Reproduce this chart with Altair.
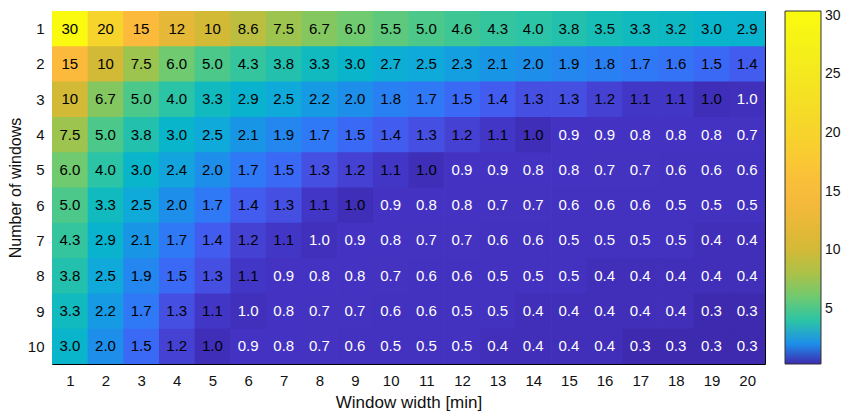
import altair as alt
import pandas as pd

window_width = list(range(1, 21))
num_windows = list(range(1, 11))

row1 = [30, 20, 15, 12, 10, 8.6, 7.5, 6.7, 6.0, 5.5, 5.0, 4.6, 4.3, 4.0, 3.8, 3.5, 3.3, 3.2, 3.0, 2.9]
row2 = [15, 10, 7.5, 6.0, 5.0, 4.3, 3.8, 3.3, 3.0, 2.7, 2.5, 2.3, 2.1, 2.0, 1.9, 1.8, 1.7, 1.6, 1.5, 1.4]
row3 = [10, 6.7, 5.0, 4.0, 3.3, 2.9, 2.5, 2.2, 2.0, 1.8, 1.7, 1.5, 1.4, 1.3, 1.3, 1.2, 1.1, 1.1, 1.0, 0.96]
row4 = [7.5, 5.0, 3.8, 3.0, 2.5, 2.1, 1.9, 1.7, 1.5, 1.4, 1.3, 1.2, 1.1, 1.0, 0.9, 0.9, 0.8, 0.8, 0.8, 0.7]
row5 = [6.0, 4.0, 3.0, 2.4, 2.0, 1.7, 1.5, 1.3, 1.2, 1.1, 1.0, 0.9, 0.9, 0.8, 0.8, 0.7, 0.7, 0.6, 0.6, 0.6]
row6 = [5.0, 3.3, 2.5, 2.0, 1.7, 1.4, 1.3, 1.1, 1.0, 0.9, 0.8, 0.8, 0.7, 0.7, 0.6, 0.6, 0.6, 0.5, 0.5, 0.5]
row7 = [4.3, 2.9, 2.1, 1.7, 1.4, 1.2, 1.1, 0.96, 0.9, 0.8, 0.7, 0.7, 0.6, 0.6, 0.5, 0.5, 0.5, 0.5, 0.4, 0.4]
row8 = [3.8, 2.5, 1.9, 1.5, 1.3, 1.1, 0.9, 0.8, 0.8, 0.7, 0.6, 0.6, 0.5, 0.5, 0.5, 0.4, 0.4, 0.4, 0.4, 0.4]
row9 = [3.3, 2.2, 1.7, 1.3, 1.1, 0.96, 0.8, 0.7, 0.7, 0.6, 0.6, 0.5, 0.5, 0.4, 0.4, 0.4, 0.4, 0.4, 0.3, 0.3]
row10 = [3.0, 2.0, 1.5, 1.2, 1.0, 0.9, 0.8, 0.7, 0.6, 0.5, 0.5, 0.5, 0.4, 0.4, 0.4, 0.4, 0.3, 0.3, 0.3, 0.3]
rows = [row1, row2, row3, row4, row5, row6, row7, row8, row9, row10]

colorbar_ticks = [5, 10, 15, 20, 25, 30]

color_domain = [0.3, 0.45, 0.9, 1.0, 1.1, 1.2, 1.3, 1.4, 1.5, 1.7, 1.9, 2.1, 2.5, 3.0, 3.5,
                4.0, 5.0, 6.0, 7.5, 8.6, 10, 12, 15, 20, 25, 30.4]
color_range = ["#3e2aae", "#4331be", "#4433c3", "#3f2eb8", "#4236c6", "#4542d3", "#454fe2",
               "#415cee", "#3a6af5", "#2f79f6", "#2387ef", "#1995e6", "#0fa9da", "#08b5cb",
               "#17bdb7", "#2bc4a6", "#4cc88a", "#6fca70", "#9cc44e", "#bcbe40", "#d2ba37",
               "#e6b837", "#fbba3c", "#f7d42b", "#f3e81f", "#f9fb0e"]

records = []
for n, row in zip(num_windows, rows):
    for w, v in zip(window_width, row):
        records.append({"w": w, "n": n, "v": v})
df = pd.DataFrame(records)

FONT = "Liberation Sans"

xscale = alt.Scale(domain=[0.5, 20.5], nice=False, zero=False)
yscale = alt.Scale(domain=[0.5, 10.5], nice=False, zero=False, reverse=True)

xaxis = alt.Axis(values=window_width, format="d", labelFontSize=15, labelPadding=9,
                 titleFontSize=17, titlePadding=6, ticks=False, domain=False, grid=False,
                 labelFont=FONT, titleFont=FONT, titleFontWeight="normal",
                 labelColor="#111", titleColor="#111", labelFlush=False, labelOverlap=False,
                 tickCount=20)
yaxis = alt.Axis(values=num_windows, format="d", labelFontSize=15, labelPadding=8,
                 titleFontSize=16, titlePadding=4, ticks=False, domain=False, grid=False,
                 labelFont=FONT, titleFont=FONT, titleFontWeight="normal",
                 labelColor="#111", titleColor="#111", labelFlush=False, labelOverlap=False,
                 tickCount=10)

XT = "Window width [min]"
YT = "Number of windows"

cscale = alt.Scale(domain=color_domain, range=color_range, interpolate="rgb")

rect = alt.Chart(df).transform_calculate(
    x0="datum.w - 0.5", x1="datum.w + 0.52",
    y0="datum.n - 0.5", y1="datum.n + 0.52",
).mark_rect(clip=True).encode(
    x=alt.X("x0:Q", scale=xscale, axis=xaxis, title=XT),
    x2="x1:Q",
    y=alt.Y("y0:Q", scale=yscale, axis=yaxis, title=YT),
    y2="y1:Q",
    color=alt.Color("v:Q", scale=cscale,
                    legend=alt.Legend(orient="none", legendX=733, legendY=0, direction="vertical",
                                      gradientLength=353, gradientThickness=36, title=None,
                                      values=colorbar_ticks, labelFontSize=14, labelOffset=4,
                                      labelFont=FONT, labelColor="#111", padding=0,
                                      labelOverlap=False,
                                      gradientStrokeColor="#333", gradientStrokeWidth=1)),
)

text = alt.Chart(df).transform_calculate(
    lab="datum.v >= 10 ? format(datum.v, 'd') : format(datum.v, '.1f')"
).mark_text(fontSize=15, font=FONT).encode(
    x=alt.X("w:Q", scale=xscale, axis=xaxis, title=XT),
    y=alt.Y("n:Q", scale=yscale, axis=yaxis, title=YT),
    text="lab:N",
    color=alt.condition("datum.v < 1", alt.value("white"), alt.value("black")),
)

chart = alt.layer(rect, text).properties(
    width=713, height=353,
    autosize=alt.AutoSizeParams(type="none"),
    padding={"left": 44, "top": 3, "right": 78, "bottom": 47},
).configure_view(stroke="black", strokeWidth=1)

chart.save("out.html", embed_options={"renderer": "svg", "actions": False})
